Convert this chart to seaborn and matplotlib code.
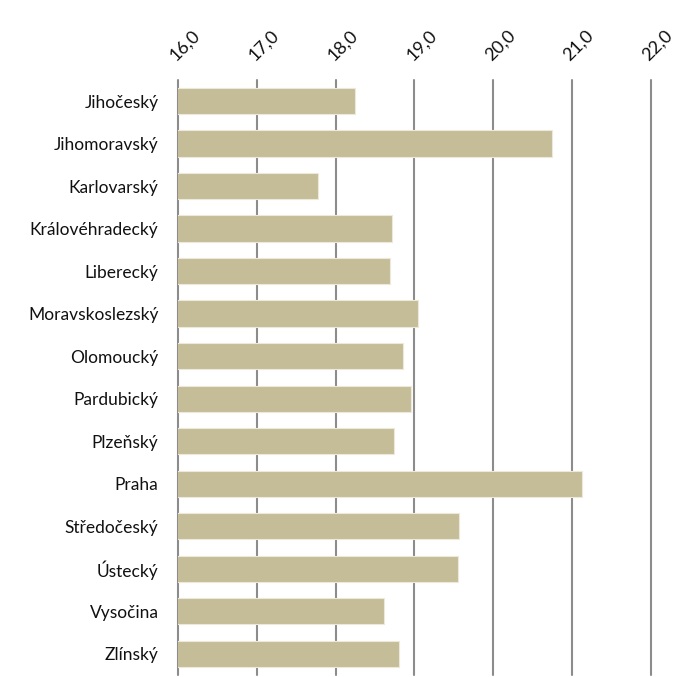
import numpy as np
import pandas as pd
import seaborn as sns
import matplotlib.pyplot as plt

kraje = ['Jihočeský', 'Jihomoravský', 'Karlovarský', 'Královéhradecký', 'Liberecký',
         'Moravskoslezský', 'Olomoucký', 'Pardubický', 'Plzeňský', 'Praha',
         'Středočeský', 'Ústecký', 'Vysočina', 'Zlínský']
hodnoty = [18.25, 20.75, 17.77, 18.72, 18.69, 19.05, 18.85,
           18.96, 18.74, 21.13, 19.56, 19.55, 18.61, 18.80]
ticks = [16, 17, 18, 19, 20, 21, 22]

df = pd.DataFrame({'kraj': kraje, 'hodnota': hodnoty})

sns.set_style("white")
plt.rcParams['font.family'] = ['Lato', 'DejaVu Sans']

fig = plt.figure(figsize=(6.99, 6.77), dpi=100)
ax = fig.add_axes([0.2546, 0.003, 0.6767, 0.879])

sns.barplot(data=df, x='hodnota', y='kraj', color='#c5bd98', saturation=1,
            width=0.62, edgecolor='#ece8da', linewidth=0.8, ax=ax, zorder=2)

ax.set_xlim(16, 22)
ax.set_xticks(ticks)
ax.set_xticklabels([f"{t:.1f}".replace('.', ',') for t in ticks],
                   rotation=45, ha='left', rotation_mode='anchor', fontsize=13)
ax.xaxis.tick_top()
ax.tick_params(axis='x', length=0, pad=12, labelcolor='#111111')
ax.tick_params(axis='y', length=0, pad=14, labelsize=12.5, labelcolor='#111111')
ax.grid(axis='x', color='#8c8c8c', linewidth=1.5, zorder=1)
for g in ax.get_xgridlines():
    g.set_clip_on(False)
ax.set_axisbelow(True)
for s in ax.spines.values():
    s.set_visible(False)
ax.set_xlabel('')
ax.set_ylabel('')

plt.savefig('out.png', dpi=100)
